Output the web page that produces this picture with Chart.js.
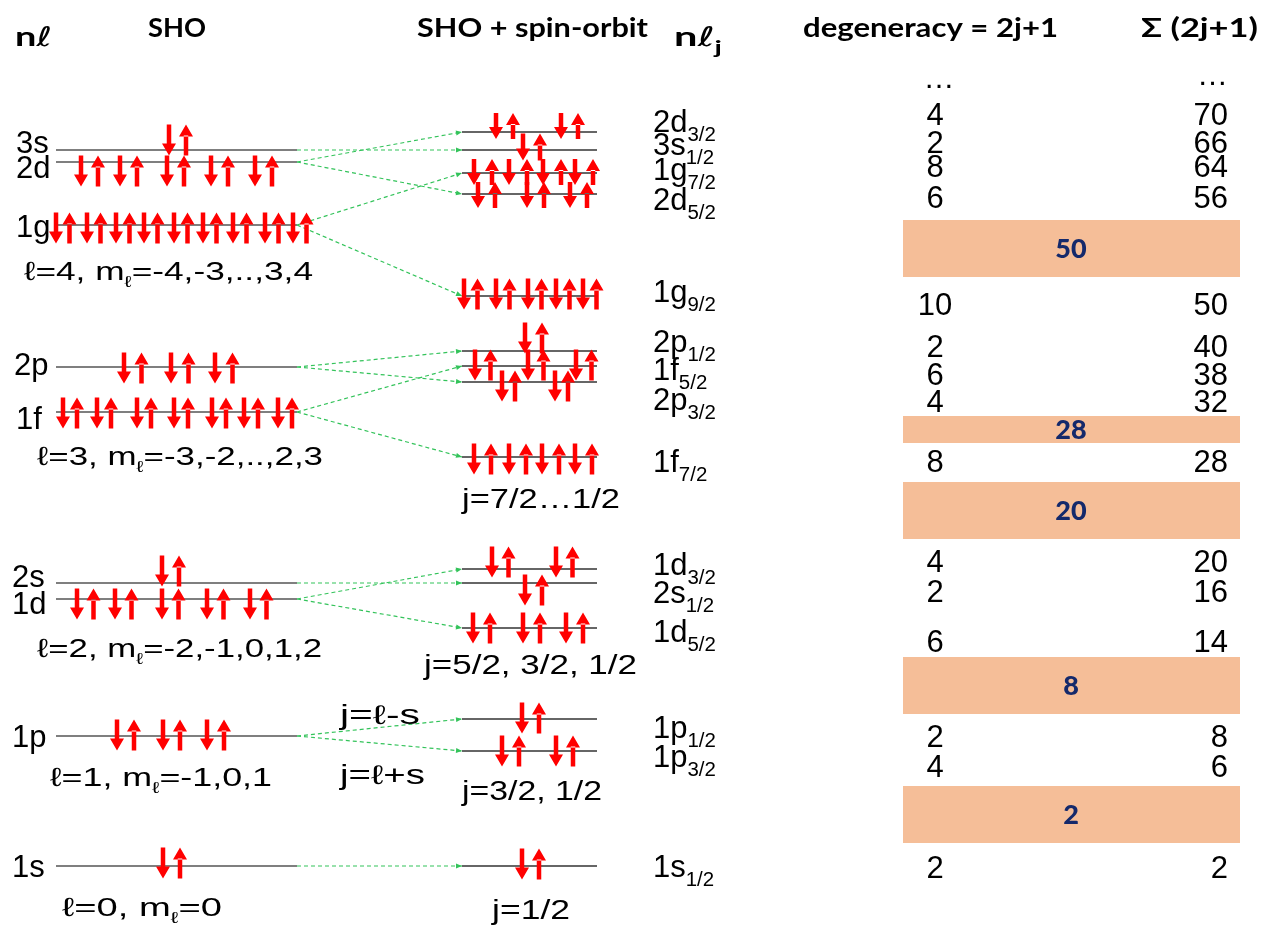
<!DOCTYPE html>
<html><head><meta charset="utf-8">
<script src="https://cdn.jsdelivr.net/npm/chart.js@4/dist/chart.umd.min.js"></script>
<style>html,body{margin:0;padding:0;background:#fff;overflow:hidden}#wrap{width:1270px;height:927px;position:relative}</style>
</head><body><div id="wrap"><canvas id="c" width="1270" height="927"></canvas></div>
<script>
// ===== DATA =====
const shoLevels = ['1s','1p','1d','2s','1f','2p','1g','2d','3s'];
const shoEnergy = [61,191,328,344,515,560,702,765,777];
const shoDesc = {'1g':['4','-4,-3,..,3,4'],'1f':['3','-3,-2,..,2,3'],'1d':['2','-2,-1,0,1,2'],'1p':['1','-1,0,1'],'1s':['0','0']};
const soNames = ['1s','1p','1p','1d','2s','1d','1f','2p','1f','2p','1g','2d','1g','3s','2d'];
const soJ = ['1/2','3/2','1/2','5/2','1/2','3/2','7/2','3/2','5/2','1/2','9/2','5/2','7/2','1/2','3/2'];
const soEnergy = [61,176,208,299,344,358,470,545,561,576,631,733,754,777,795];
const soParent = ['1s','1p','1p','1d','2s','1d','1f','2p','1f','2p','1g','2d','1g','3s','2d'];
const degeneracy = [2,4,2,6,2,4,8,4,6,2,10,6,8,2,4];
const cumulative = [2,6,8,14,16,20,28,32,38,40,50,56,64,66,70];
const magicNumbers = [2,8,20,28,50];
const jLabels = ['j=1/2','j=3/2, 1/2','j=5/2, 3/2, 1/2','j=7/2\u20261/2'];

// ===== LAYOUT (positions in canvas-like units, mapped through the scales) =====
const H = 927;
const shoX = [56, 297], soX = [462, 597];
const levelLabelPos = {'3s':[16,153],'2d':[16,178],'1g':[16,237],'2p':[14,375],'1f':[16,429],'2s':[12,587],'1d':[12,614],'1p':[12,747],'1s':[12,877]};
const soLabelBase = [877,767,738,642,603,575,472,410,380,352,302,210,180,155,132];
const soLabelX = 653;
const tableRowBase = [878,777,747,652,602,572,472,412,385,357,315,208,177,153,125];
const magicBand = {2:[786,843],8:[657,714],20:[482,539],28:[416,443],50:[220,277]};
const bandX = [903, 1240];
const descPos = {'1g':[24,313,280],'1f':[37,323,465],'1d':[37,322,657],'1p':[50,272,786],'1s':[62,222,916]};
const jPos = [[492,570,919],[462,602,800],[424,637,674],[462,620,508]];
const shoArrows = {
 '3s':{x:[169],dx:17,off:10},
 '2d':{x:[81,120,167,211,255],dx:17,off:-9},
 '1g':{x:[56,87,116,144,174,203,233,265,293],dx:13.5,off:-3},
 '2p':{x:[124,171,215],dx:17.5,off:-1},
 '1f':{x:[63,97,137,174,212,244,278],dx:14,off:-1},
 '2s':{x:[162],dx:17,off:12},
 '1d':{x:[77,115,162,207,250],dx:16.5,off:-5},
 '1p':{x:[117,163,207],dx:17,off:1},
 '1s':{x:[163],dx:17,off:3}
};
const soArrows = [
 {x:[522],dx:17,off:2},
 {x:[502,556],dx:17,off:0},
 {x:[522],dx:17,off:1},
 {x:[473,523,566],dx:17,off:0},
 {x:[525],dx:17,off:-7},
 {x:[492,556],dx:16.5,off:7},
 {x:[474,509,542,575],dx:17,off:-2},
 {x:[502,555],dx:13,off:-4},
 {x:[475,528,576],dx:15.5,off:1},
 {x:[525],dx:17,off:13},
 {x:[464,496,528,556,583],dx:13.5,off:2},
 {x:[478,527,570],dx:17,off:-1,len:26},
 {x:[474,509,543,575],dx:18,off:1,len:26},
 {x:[523],dx:17,off:3,len:27},
 {x:[496,561],dx:17,off:6,len:26}
];

// ===== CHART =====
const datasets = [];
shoLevels.forEach((n,i)=>datasets.push({data:[{x:shoX[0],y:shoEnergy[i]},{x:shoX[1],y:shoEnergy[i]}],showLine:true,borderColor:'#555',borderWidth:1.6,pointRadius:0}));
soEnergy.forEach((e,i)=>datasets.push({data:[{x:soX[0],y:e},{x:soX[1],y:e}],showLine:true,borderColor:'#333',borderWidth:1.5,pointRadius:0}));
soEnergy.forEach((e,i)=>{
  const p = shoEnergy[shoLevels.indexOf(soParent[i])];
  datasets.push({data:[{x:shoX[1],y:p},{x:soX[0],y:e}],showLine:true,borderColor:'#33c35a',borderWidth:1.2,borderDash:[4,3],pointRadius:0});
});

const SANS = '"Liberation Sans", Arial, sans-serif';
function rich(ctx, segs, x, base, size, fit, bold, family, subRatio){
  family = family || SANS;
  subRatio = subRatio || 0.62;
  let w = 0;
  const parts = segs.map(s=>{
    const sz = s.sub ? size*subRatio : size;
    const f = ((s.bold !== undefined ? s.bold : bold) ? 'bold ' : '') + sz + 'px ' + (s.family || family);
    ctx.font = f;
    const m = ctx.measureText(s.t).width;
    const r = {t:s.t, f, w:m, dy: s.sub ? size*0.28 : 0};
    w += m; return r;
  });
  const sx = fit ? (fit - x) / w : 1;
  ctx.save();
  ctx.translate(x, base);
  ctx.scale(sx, 1);
  let cx = 0;
  parts.forEach(p=>{ ctx.font = p.f; ctx.fillText(p.t, cx, p.dy); cx += p.w; });
  ctx.restore();
}

const drawPlugin = {
  id:'diagram',
  afterDatasetsDraw(chart){
    const ctx = chart.ctx, xs = chart.scales.x, ys = chart.scales.y;
    const px = v=>xs.getPixelForValue(v), pyE = e=>ys.getPixelForValue(e), py = v=>ys.getPixelForValue(H - v);
    ctx.save();
    // connector arrowheads
    ctx.fillStyle = '#33c35a';
    soEnergy.forEach((e,i)=>{
      const p = shoEnergy[shoLevels.indexOf(soParent[i])];
      const x1 = px(shoX[1]), y1 = pyE(p), x2 = px(soX[0]), y2 = pyE(e);
      const a = Math.atan2(y2-y1, x2-x1);
      ctx.save(); ctx.translate(x2,y2); ctx.rotate(a);
      ctx.beginPath(); ctx.moveTo(0,0); ctx.lineTo(-6,-2.5); ctx.lineTo(-6,2.5); ctx.closePath(); ctx.fill();
      ctx.restore();
    });
    // spin arrows
    ctx.fillStyle = '#ff0000';
    function arrow(x, cy, len, up){
      const hl = 12, hw = 14, sw = 4.5;
      const top = cy - len/2, bot = cy + len/2;
      ctx.beginPath();
      if(up){
        ctx.rect(x - sw/2, top + hl - 1, sw, len - hl + 1);
        ctx.moveTo(x - hw/2, top + hl); ctx.lineTo(x + hw/2, top + hl); ctx.lineTo(x, top); ctx.closePath();
      } else {
        ctx.rect(x - sw/2, top, sw, len - hl + 1);
        ctx.moveTo(x - hw/2, bot - hl); ctx.lineTo(x + hw/2, bot - hl); ctx.lineTo(x, bot); ctx.closePath();
      }
      ctx.fill();
    }
    shoLevels.forEach((n,i)=>{
      const a = shoArrows[n]; const cy = pyE(shoEnergy[i] + a.off); const len = a.len || 31;
      a.x.forEach(x=>{ arrow(px(x), cy, len, false); arrow(px(x + a.dx), cy, len, true); });
    });
    soEnergy.forEach((e,i)=>{
      const a = soArrows[i]; const cy = pyE(e + a.off); const len = a.len || 31;
      a.x.forEach(x=>{ arrow(px(x), cy, len, false); arrow(px(x + a.dx), cy, len, true); });
    });
    // magic number bands
    magicNumbers.forEach(m=>{
      const b = magicBand[m];
      ctx.fillStyle = '#f5be98';
      ctx.fillRect(px(bandX[0]), py(b[0]), px(bandX[1]) - px(bandX[0]), py(b[1]) - py(b[0]));
      ctx.fillStyle = '#14296b';
      ctx.font = '900 27px Lato, sans-serif';
      ctx.textAlign = 'center'; ctx.textBaseline = 'middle';
      ctx.fillText(String(m), px(1071), (py(b[0]) + py(b[1]))/2 + 1);
    });
    ctx.textBaseline = 'alphabetic';
    // table
    ctx.fillStyle = '#000';
    ctx.font = '31px ' + SANS;
    degeneracy.forEach((d,i)=>{
      ctx.textAlign = 'center'; ctx.fillText(String(d), px(935), py(tableRowBase[i]));
      ctx.textAlign = 'right'; ctx.fillText(String(cumulative[i]), px(1228), py(tableRowBase[i]));
    });
    ctx.textAlign = 'center'; ctx.fillText('\u2026', px(939), py(88));
    ctx.textAlign = 'right'; ctx.fillText('\u2026', px(1228), py(85));
    ctx.textAlign = 'left';
    // SHO level labels
    shoLevels.forEach(n=>{ const p = levelLabelPos[n]; rich(ctx, [{t:n}], px(p[0]), py(p[1]), 31, null); });
    // SO level labels
    soNames.forEach((n,i)=>{
      rich(ctx, [{t:n},{t:soJ[i],sub:true}], px(soLabelX), py(soLabelBase[i]), 31, null, false, SANS, 0.66);
    });
    // descriptions
    Object.keys(shoDesc).forEach(n=>{
      const d = shoDesc[n], p = descPos[n];
      rich(ctx, [{t:'\u2113=' + d[0] + ', m'},{t:'\u2113',sub:true},{t:'=' + d[1]}], px(p[0]), py(p[2]), 26, px(p[1]));
    });
    jLabels.forEach((t,i)=>{ const p = jPos[i]; rich(ctx, [{t}], px(p[0]), py(p[2]), 27, px(p[1])); });
    rich(ctx, [{t:'j=\u2113-s'}], px(340), py(724), 27, px(420));
    rich(ctx, [{t:'j=\u2113+s'}], px(340), py(784), 27, px(425));
    // headers
    const lato = 'Lato, "Open Sans", sans-serif';
    const ell = {t:'\u2113', family:'"DejaVu Sans", sans-serif', bold:false};
    rich(ctx, [{t:'n'}, ell], px(15), py(46), 27, px(52), true, lato);
    rich(ctx, [{t:'SHO'}], px(148), py(37), 27, px(206), true, lato);
    rich(ctx, [{t:'SHO + spin-orbit'}], px(417), py(37), 27, px(648), true, lato);
    rich(ctx, [{t:'n'}, ell, {t:'j',sub:true}], px(674), py(46), 27, px(722), true, lato, 0.7);
    rich(ctx, [{t:'degeneracy = 2j+1'}], px(803), py(37), 27, px(1058), true, lato);
    rich(ctx, [{t:'\u03a3 (2j+1)'}], px(1141), py(37), 27, px(1258), true, lato);
    ctx.restore();
  }
};

new Chart(document.getElementById('c'), {
  type:'scatter',
  data:{datasets},
  options:{
    responsive:false, animation:false, events:[],
    layout:{padding:0},
    plugins:{legend:{display:false}, tooltip:{enabled:false}},
    scales:{
      x:{type:'linear', min:0, max:1270, display:false},
      y:{type:'linear', min:0, max:H, display:false}
    }
  },
  plugins:[drawPlugin]
});
</script></body></html>
